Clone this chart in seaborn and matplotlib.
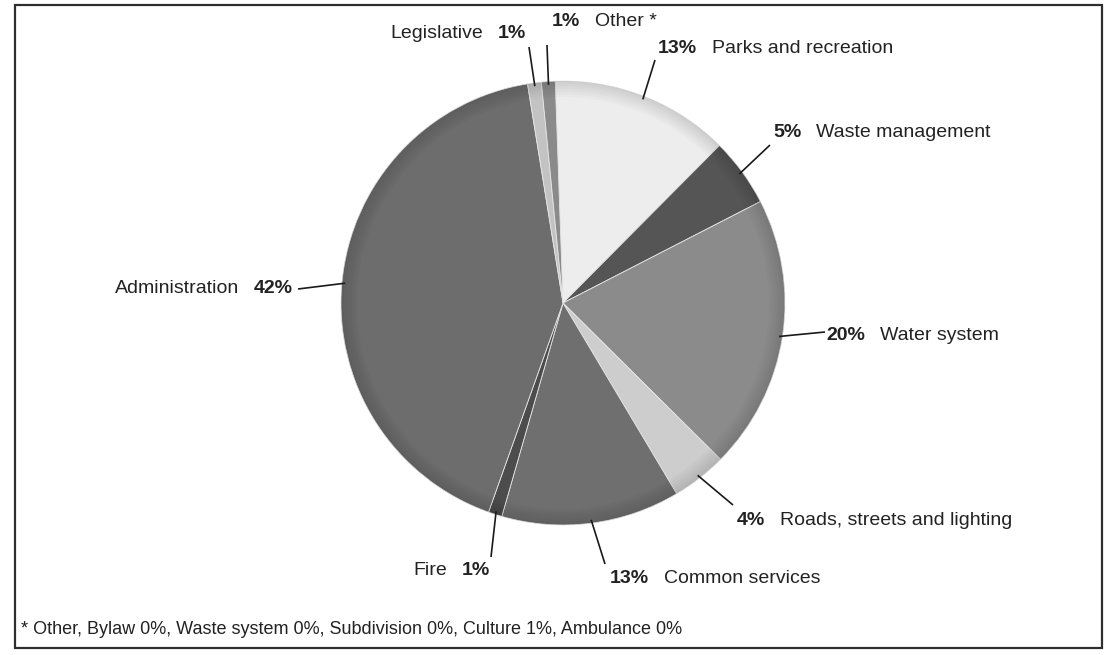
import matplotlib
matplotlib.use("Agg")
import matplotlib.pyplot as plt
import seaborn as sns
import numpy as np
from matplotlib.patches import Rectangle, Wedge

# Budget shares by department (percent), clockwise from the top
categories = ["Parks and recreation", "Waste management", "Water system",
              "Roads, streets and lighting", "Common services", "Fire",
              "Administration", "Legislative", "Other *"]
shares = [13, 5, 20, 4, 13, 1, 42, 1, 1]

# Items grouped under "Other"
other_items = ["Bylaw", "Waste system", "Subdivision", "Culture", "Ambulance"]
other_shares = [0, 0, 0, 1, 0]

slice_colors = ["#ededed", "#555555", "#8b8b8b", "#cdcdcd", "#6f6f6f",
                "#4c4c4c", "#6d6d6d", "#c3c3c3", "#8a8a8a"]

# Label layout: whether the percentage comes first, left x / baseline y (px, top origin),
# and the outer end of each leader line
pct_first = [True, True, True, True, True, False, False, False, True]
label_xy = [(658, 53), (773, 137), (826, 340), (737, 525), (610, 583),
            (413, 575), (115, 293), (390, 38), (552, 26)]
leader_end = [(655, 60), (770, 145), (825, 332), (733, 505), (605, 564),
              (491, 557), (298, 289), (529, 47), (547, 45)]

W, H = 1104, 655
sns.set_theme(style="white")
plt.rcParams["font.family"] = ["Liberation Sans", "DejaVu Sans"]
FS = 14
FS_NOTE = 13

fig = plt.figure(figsize=(W / 100, H / 100), dpi=100)
fig.patch.set_facecolor("white")

# Pie axes: square region in pixels
cx, cy, r = 563, 303, 222
ax = fig.add_axes([(cx - r) / W, (H - cy - r) / H, 2 * r / W, 2 * r / H])
wedges, _ = ax.pie(shares, colors=slice_colors, startangle=92, counterclock=False,
                   radius=1.0, wedgeprops=dict(edgecolor="#e6e6e6", linewidth=0.6))
# soft darkening toward the rim
for k in range(6):
    ax.add_patch(Wedge((0, 0), 1.0, 0, 360, width=0.012 * (k + 1),
                       facecolor="black", alpha=0.018, lw=0))
ax.set_xlim(-1, 1)
ax.set_ylim(-1, 1)
ax.set_aspect("equal")
ax.axis("off")

# Overlay axes in pixel coordinates (y down) for labels, leaders and frame
ov = fig.add_axes([0, 0, 1, 1], zorder=5)
ov.set_xlim(0, W)
ov.set_ylim(H, 0)
ov.axis("off")
ov.patch.set_alpha(0)

ov.add_patch(Rectangle((15, 5), 1087, 643, fill=False, edgecolor="#2e2e2e", lw=1.6))

fig.canvas.draw()
renderer = fig.canvas.get_renderer()
to_ov = ov.transData.inverted()

for w, name, share, first, (lx, ly), (ex, ey) in zip(
        wedges, categories, shares, pct_first, label_xy, leader_end):
    mid = np.deg2rad((w.theta1 + w.theta2) / 2)
    sx, sy = to_ov.transform(ax.transData.transform((0.985 * np.cos(mid), 0.985 * np.sin(mid))))
    ov.plot([sx, ex], [sy, ey], color="#1a1a1a", lw=1.2, solid_capstyle="butt")

    parts = [(f"{share}%", "bold"), (name, "normal")]
    if not first:
        parts = parts[::-1]
    x = lx
    for txt, wt in parts:
        t = ov.text(x, ly, txt, fontsize=FS, fontweight=wt, color="#222222",
                    ha="left", va="baseline")
        bb = t.get_window_extent(renderer)
        x = to_ov.transform((bb.x1, 0))[0] + 15

foot = "* Other, " + ", ".join(f"{n} {v}%" for n, v in zip(other_items, other_shares))
ov.text(21, 634, foot, fontsize=FS_NOTE, color="#222222", ha="left", va="baseline")

fig.savefig("out.png", dpi=100, facecolor="white")
